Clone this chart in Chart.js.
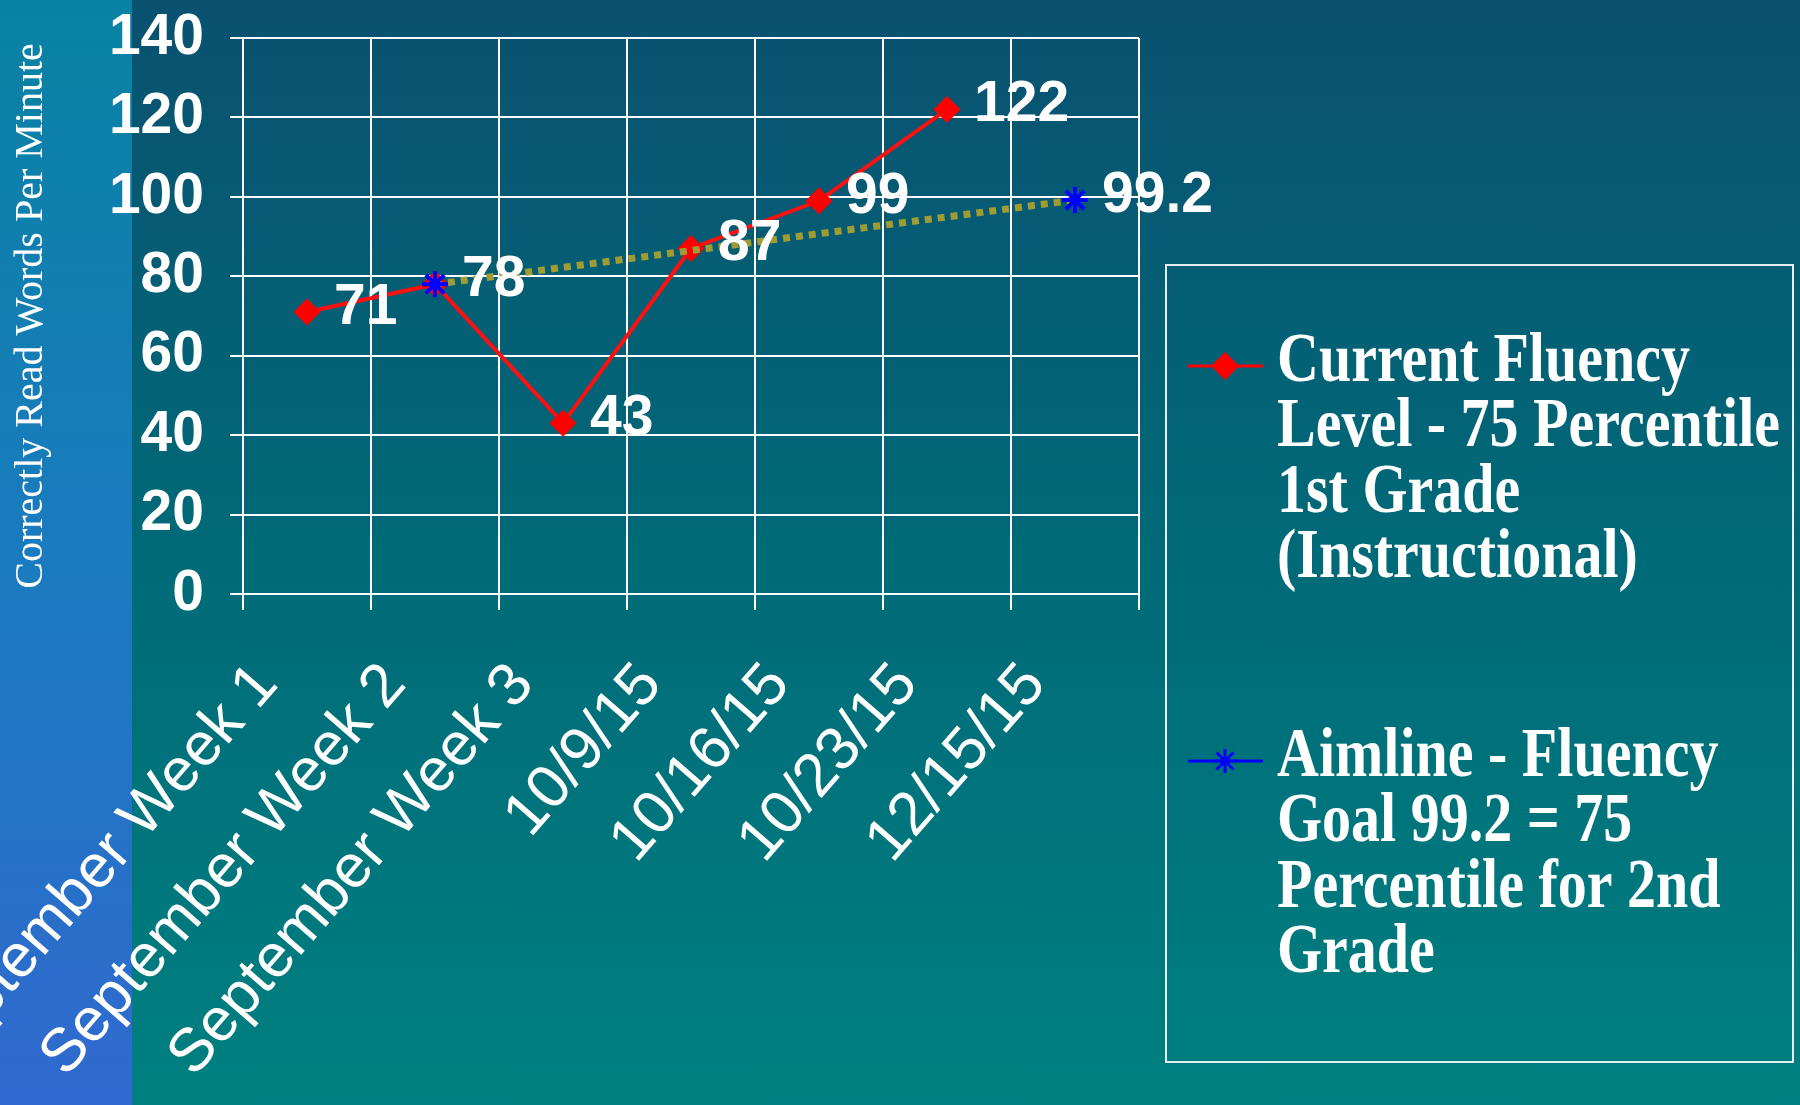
<!DOCTYPE html>
<html>
<head>
<meta charset="utf-8">
<title>Fluency Progress</title>
<script src="https://cdn.jsdelivr.net/npm/chart.js@4.4.1/dist/chart.umd.min.js"></script>
<style>
    html, body {
        margin: 0;
        padding: 0;
        width: 1800px;
        height: 1105px;
        overflow: hidden;
        background: linear-gradient(180deg, #0a5170 0%, #006a78 50%, #008080 100%);
    }
    #strip {
        position: absolute;
        left: 0;
        top: 0;
        width: 132px;
        height: 1105px;
        background: linear-gradient(180deg, #0882a2 0%, #1a7bbf 50%, #3069cf 100%);
    }
    #wrap {
        position: absolute;
        left: 0;
        top: 0;
        width: 1800px;
        height: 1105px;
    }
</style>
</head>
<body>
<div id="strip"></div>
<div id="wrap"><canvas id="fluencyChart" width="1800" height="1105"></canvas></div>
<script>
// Weekly reading checks
const weeks = ['September Week 1', 'September Week 2', 'September Week 3', '10/9/15', '10/16/15', '10/23/15', '12/15/15'];
const currentFluency = [71, 78, 43, 87, 99, 122, null];
const aimline = [null, 78, null, null, null, null, 99.2];

const yTicks = { min: 0, max: 140, step: 20 };

const currentLegend = ['Current Fluency', 'Level - 75 Percentile', '1st Grade', '(Instructional)'];
const aimLegend = ['Aimline - Fluency', 'Goal 99.2 = 75', 'Percentile for 2nd', 'Grade'];

const numFont = '"Liberation Sans Narrow", "Arial Narrow", "Liberation Sans", Arial, sans-serif';
const serifFont = '"Liberation Serif", "Times New Roman", serif';

// Value labels next to each point (one label per category)
const pointLabels = {
    id: 'pointLabels',
    afterDatasetsDraw(chart) {
        const ctx = chart.ctx;
        const done = new Set();
        ctx.save();
        ctx.fillStyle = '#ffffff';
        ctx.font = 'bold 57px ' + numFont;
        ctx.textAlign = 'left';
        ctx.textBaseline = 'middle';
        chart.data.datasets.forEach((ds, i) => {
            const meta = chart.getDatasetMeta(i);
            meta.data.forEach((pt, j) => {
                const v = ds.data[j];
                if (v === null || done.has(j)) return;
                done.add(j);
                ctx.fillText(String(v), pt.x + 27, pt.y - 4);
            });
        });
        ctx.restore();
    }
};

// Boxed legend on the right with wrapped serif text
const boxLegend = {
    id: 'boxLegend',
    afterDraw(chart) {
        const ctx = chart.ctx;
        const entries = [
            { ds: chart.data.datasets[1], lines: currentLegend, y: 363, line: '#ff0000' },
            { ds: chart.data.datasets[0], lines: aimLegend, y: 758, line: '#0000ff' }
        ];
        ctx.save();
        ctx.strokeStyle = '#e6eef0';
        ctx.lineWidth = 2;
        ctx.strokeRect(1166, 265, 627, 797);

        entries.forEach(e => {
            // marker
            ctx.strokeStyle = e.line;
            ctx.lineWidth = 3;
            ctx.beginPath();
            ctx.moveTo(1188, e.y + 3);
            ctx.lineTo(1263, e.y + 3);
            ctx.stroke();
            ctx.fillStyle = e.ds.pointBackgroundColor;
            ctx.strokeStyle = e.ds.pointBorderColor;
            Chart.helpers.drawPoint(ctx, {
                pointStyle: e.ds.pointStyle,
                radius: e.ds.pointRadius - 1,
                rotation: 0,
                borderWidth: e.ds.pointBorderWidth
            }, 1225, e.y + 3);

            // text, slightly tall like the slide font
            ctx.fillStyle = '#ffffff';
            ctx.font = 'bold 58px ' + serifFont;
            ctx.textAlign = 'left';
            ctx.textBaseline = 'middle';
            e.lines.forEach((t, k) => {
                ctx.save();
                ctx.translate(1277, e.y + k * 65.5);
                ctx.scale(1, 1.2);
                ctx.fillText(t, 0, 0);
                ctx.restore();
            });
        });
        ctx.restore();
    }
};

const ctx = document.getElementById('fluencyChart').getContext('2d');
const fluencyChart = new Chart(ctx, {
    type: 'line',
    data: {
        labels: weeks,
        datasets: [{
            label: aimLegend.join(' '),
            data: aimline,
            spanGaps: true,
            borderColor: '#a09c34',
            borderWidth: 7,
            borderDash: [7, 6],
            pointStyle: 'star',
            pointRadius: 13,
            pointBorderWidth: 4,
            pointBorderColor: '#0000ff',
            pointBackgroundColor: '#0000ff',
            fill: false,
            order: 0
        }, {
            label: currentLegend.join(' '),
            data: currentFluency,
            borderColor: '#ff1010',
            borderWidth: 4,
            pointStyle: 'rectRot',
            pointRadius: 13,
            pointBorderWidth: 1,
            pointBorderColor: '#ff0000',
            pointBackgroundColor: '#ff0000',
            fill: false,
            tension: 0,
            order: 1
        }]
    },
    options: {
        responsive: false,
        animation: false,
        layout: {
            padding: { top: 38, right: 661, left: 0, bottom: 0 }
        },
        plugins: {
            legend: { display: false },
            tooltip: { enabled: false }
        },
        scales: {
            x: {
                offset: true,
                grid: {
                    offset: true,
                    color: '#ffffff',
                    lineWidth: 2,
                    tickLength: 16
                },
                border: { color: '#ffffff', width: 2 },
                ticks: {
                    color: '#ffffff',
                    font: { family: '"Liberation Sans", Arial, sans-serif', size: 61 },
                    minRotation: 49,
                    maxRotation: 49,
                    autoSkip: false,
                    padding: 40,
                    labelOffset: -40
                },
                afterFit: (scale) => {
                    scale.height = 511;
                    scale.paddingLeft = 0;
                    scale.paddingRight = 0;
                }
            },
            y: {
                min: yTicks.min,
                max: yTicks.max,
                grid: {
                    color: '#ffffff',
                    lineWidth: 2,
                    tickLength: 13
                },
                border: { color: '#ffffff', width: 2 },
                ticks: {
                    stepSize: yTicks.step,
                    color: '#ffffff',
                    font: { family: numFont, size: 57, weight: 'bold' },
                    padding: 26
                },
                title: {
                    display: true,
                    text: 'Correctly Read Words Per Minute',
                    color: '#ffffff',
                    font: { family: serifFont, size: 40 },
                    padding: { top: 7, bottom: 0 }
                },
                afterFit: (scale) => {
                    scale.width = 243;
                    scale.paddingTop = 0;
                    scale.paddingBottom = 0;
                }
            }
        }
    },
    plugins: [pointLabels, boxLegend]
});
</script>
</body>
</html>
